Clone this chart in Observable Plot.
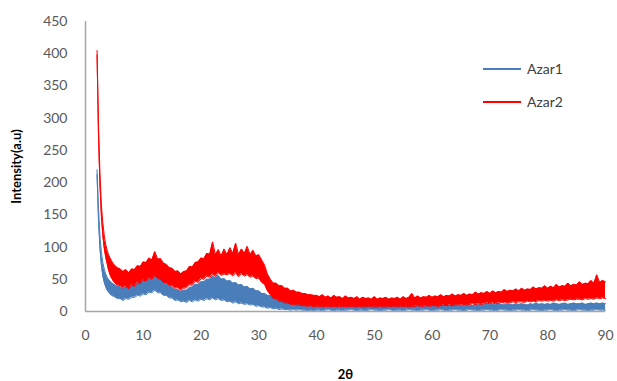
<!DOCTYPE html>
<html>
<head>
<meta charset="utf-8">
<script src="https://cdn.jsdelivr.net/npm/d3@7"></script>
<script src="https://cdn.jsdelivr.net/npm/@observablehq/plot@0.6"></script>
<style>
  body { margin: 0; background: #fff; }
  #wrap { position: relative; width: 617px; height: 381px; overflow: hidden; }
  g[aria-label="x-axis label"] text, g[aria-label="y-axis label"] text {
    font-weight: bold; fill: #000; font-size: 13px;
  }
  #legend { position: absolute; left: 483px; top: 52px; font-family: Lato, "Open Sans", sans-serif; font-size: 14px; color: #404040; }
  .item { display: flex; align-items: center; height: 33px; }
  .swatch { width: 38px; height: 0; border-top: 2px solid; margin-right: 6px; }
</style>
</head>
<body>
<div id="wrap"></div>
<script>
// Series names and colours
const seriesNames = ["Azar1", "Azar2"];
const seriesColors = ["#4A7EBB", "#FF0000"];

// 2θ sampling: fine steps near the low-angle peak, then 0.5° steps
const xA = [2, 2.25, 2.5, 2.75, 3, 3.25, 3.5, 3.75, 4, 4.25, 4.5, 4.75];
const xB = d3.range(5, 40.001, 0.5);    // 71 values
const xC = d3.range(40.5, 90.001, 0.5); // 100 values

// Azar1 (blue) noise envelope: lower and upper edges
const azar1LoA = [212, 142, 98, 72, 55, 45, 38, 33, 30, 27, 25, 24];
const azar1HiA = [220, 160, 118, 92, 76, 66, 58, 53, 50, 47, 45, 43];
const azar1LoB = [23, 20, 20, 17, 20, 19, 22, 22, 25, 24, 27, 26, 30, 29, 33, 29, 29, 25, 25, 21,
  21, 17, 18, 15, 16, 14, 17, 15, 18, 16, 19, 17, 20, 18, 21, 18, 20, 17, 18, 15,
  16, 13, 15, 12, 13, 11, 12, 10, 11, 8, 9, 7, 7, 5, 6, 4, 5, 3, 4, 3,
  3, 2, 3, 2, 3, 2, 2, 1, 2, 1, 2];
const azar1HiB = [42, 39, 38, 35, 38, 37, 40, 40, 44, 44, 48, 49, 54, 55, 60, 54, 52, 46, 44, 39,
  38, 34, 34, 31, 33, 33, 37, 38, 42, 42, 46, 46, 50, 50, 55, 52, 56, 50, 51, 47,
  48, 44, 45, 41, 42, 38, 39, 35, 36, 32, 32, 28, 28, 25, 25, 21, 21, 17, 18, 15,
  15, 13, 14, 12, 12, 11, 11, 10, 11, 9, 10];
const azar1LoC = [2, 1, 2, 3, 2, 1, 2, 2, 1, 2, 2, 3, 2, 1, 2, 2, 1, 2, 3, 2,
  2, 1, 2, 2, 3, 2, 1, 2, 2, 1, 2, 3, 2, 2, 1, 2, 2, 3, 2, 1,
  2, 2, 3, 2, 1, 2, 2, 3, 2, 2, 1, 2, 3, 2, 2, 1, 2, 2, 3, 2,
  2, 1, 2, 3, 2, 2, 1, 2, 2, 3, 2, 2, 1, 2, 3, 2, 2, 1, 2, 2,
  3, 2, 1, 2, 2, 3, 2, 2, 1, 2, 3, 2, 2, 1, 2, 2, 3, 2, 2, 2];
const azar1HiC = [10, 9, 11, 9, 10, 9, 10, 8, 10, 9, 9, 10, 8, 9, 10, 8, 9, 10, 8, 9,
  9, 8, 10, 9, 8, 9, 10, 8, 9, 9, 8, 10, 9, 8, 9, 10, 8, 9, 10, 9,
  9, 10, 9, 10, 11, 9, 10, 11, 10, 9, 10, 11, 10, 9, 11, 10, 11, 10, 12, 10,
  11, 10, 12, 11, 10, 12, 11, 10, 12, 11, 12, 11, 10, 12, 11, 13, 11, 12, 11, 12,
  11, 13, 12, 11, 12, 13, 11, 12, 13, 12, 12, 13, 11, 12, 13, 12, 13, 12, 13, 12];

// Azar2 (red) noise envelope: lower and upper edges
const azar2LoA = [398, 272, 198, 148, 118, 98, 84, 74, 64, 57, 52, 48];
const azar2HiA = [405, 290, 215, 165, 138, 118, 104, 95, 88, 83, 79, 75];
const azar2LoB = [45, 41, 40, 36, 39, 35, 41, 39, 45, 43, 49, 47, 53, 50, 56, 51, 50, 45, 45, 40,
  40, 36, 37, 33, 36, 37, 41, 41, 47, 45, 51, 50, 55, 53, 58, 54, 60, 56, 58, 57,
  59, 55, 60, 54, 59, 55, 57, 53, 55, 51, 52, 45, 42, 32, 26, 20, 20, 16, 16, 13,
  13, 11, 11, 10, 10, 9, 9, 8, 9, 7, 8];
const azar2HiB = [72, 68, 66, 62, 65, 60, 66, 65, 71, 70, 77, 76, 83, 80, 93, 81, 82, 75, 73, 68,
  67, 62, 63, 58, 62, 63, 70, 69, 76, 77, 83, 82, 90, 89, 108, 88, 96, 86, 97, 88,
  99, 90, 106, 88, 97, 90, 101, 88, 95, 86, 88, 80, 72, 58, 50, 44, 44, 40, 40, 36,
  36, 32, 33, 30, 30, 28, 28, 26, 26, 25, 25];
const azar2LoC = [8, 7, 8, 8, 7, 8, 7, 8, 7, 8, 7, 8, 7, 7, 8, 7, 7, 8, 7, 7,
  7, 8, 7, 7, 8, 7, 8, 7, 8, 7, 8, 7, 8, 8, 9, 8, 8, 9, 8, 9,
  9, 8, 9, 10, 9, 10, 9, 10, 11, 10, 11, 10, 11, 12, 11, 12, 11, 12, 13, 12,
  13, 12, 13, 14, 13, 14, 13, 15, 14, 15, 15, 14, 16, 15, 16, 15, 17, 16, 17, 16,
  17, 16, 18, 17, 18, 17, 18, 19, 18, 19, 19, 18, 20, 19, 20, 19, 21, 20, 21, 20];
const azar2HiC = [23, 26, 22, 24, 21, 25, 22, 23, 20, 24, 21, 22, 20, 23, 19, 22, 20, 21, 19, 23,
  19, 21, 20, 22, 19, 21, 20, 22, 19, 23, 20, 22, 28, 21, 24, 21, 23, 22, 25, 22,
  24, 23, 26, 23, 25, 24, 27, 24, 26, 25, 28, 25, 27, 26, 30, 27, 29, 28, 31, 28,
  32, 29, 31, 30, 34, 31, 33, 32, 35, 32, 36, 33, 35, 34, 38, 35, 37, 36, 40, 36,
  39, 37, 42, 38, 40, 39, 44, 40, 42, 41, 46, 42, 44, 43, 48, 44, 57, 45, 48, 46];

const xTicks = [0, 10, 20, 30, 40, 50, 60, 70, 80, 90];
const yTicks = [0, 50, 100, 150, 200, 250, 300, 350, 400, 450];

const xs = [...xA, ...xB, ...xC];
const b1 = [...azar1LoA, ...azar1LoB, ...azar1LoC];
const b2 = [...azar1HiA, ...azar1HiB, ...azar1HiC];
const r1 = [...azar2LoA, ...azar2LoB, ...azar2LoC];
const r2 = [...azar2HiA, ...azar2HiB, ...azar2HiC];
const rows = xs.map((x, i) => ({x, b1: b1[i], b2: b2[i], r1: r1[i], r2: r2[i]}));

const chart = Plot.plot({
  width: 617,
  height: 381,
  marginLeft: 85,
  marginRight: 12,
  marginTop: 21,
  marginBottom: 70,
  style: {fontFamily: "Lato, 'Open Sans', sans-serif", fontSize: "14px", color: "#595959", background: "#fff"},
  x: {domain: [0, 90]},
  y: {domain: [0, 450]},
  marks: [
    Plot.areaY(rows, {x: "x", y1: "b1", y2: "b2", fill: seriesColors[0]}),
    Plot.line(rows, {x: "x", y: "b2", stroke: seriesColors[0], strokeWidth: 1}),
    Plot.line(rows, {x: "x", y: "b1", stroke: seriesColors[0], strokeWidth: 1}),
    Plot.areaY(rows, {x: "x", y1: "r1", y2: "r2", fill: seriesColors[1]}),
    Plot.line(rows, {x: "x", y: "r2", stroke: seriesColors[1], strokeWidth: 1}),
    Plot.line(rows, {x: "x", y: "r1", stroke: seriesColors[1], strokeWidth: 1}),
    Plot.ruleX([0], {stroke: "#a6a6a6", strokeWidth: 1.5}),
    Plot.ruleY([0], {stroke: "#a6a6a6", strokeWidth: 1.5}),
    Plot.axisX({ticks: xTicks, tickSize: 0, tickPadding: 19, label: "2θ", labelAnchor: "center", labelArrow: "none", labelOffset: 67}),
    Plot.axisY({ticks: yTicks, tickSize: 0, tickPadding: 18, label: "Intensity(a.u)", labelAnchor: "center", labelArrow: "none", labelOffset: 74})
  ]
});

const wrap = document.getElementById("wrap");
wrap.appendChild(chart);
const legend = document.createElement("div");
legend.id = "legend";
seriesNames.forEach((name, i) => {
  const item = document.createElement("div");
  item.className = "item";
  const sw = document.createElement("span");
  sw.className = "swatch";
  sw.style.borderColor = seriesColors[i];
  const t = document.createElement("span");
  t.textContent = name;
  item.appendChild(sw);
  item.appendChild(t);
  legend.appendChild(item);
});
wrap.appendChild(legend);
</script>
</body>
</html>
